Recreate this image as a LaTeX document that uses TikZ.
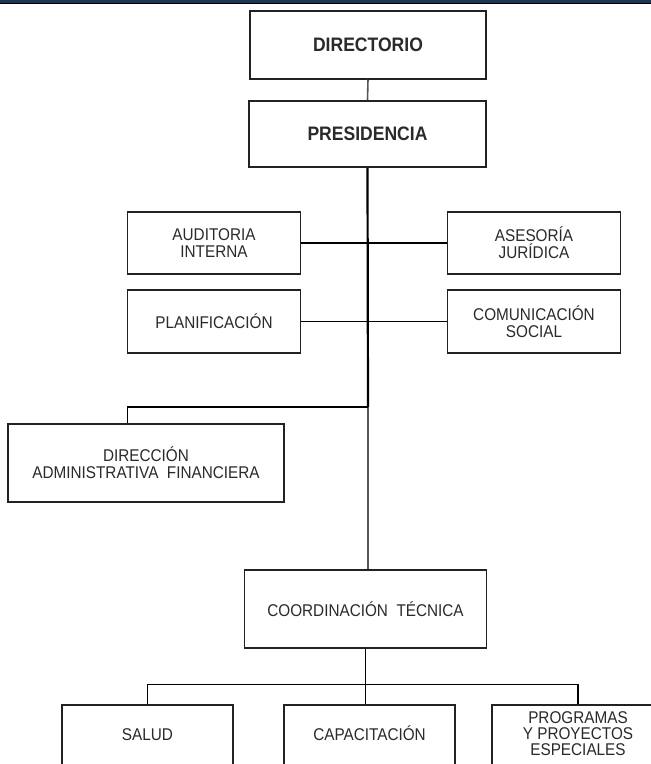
\documentclass[tikz,border=0pt]{standalone}
\usepackage{fontspec}
\setmainfont[FakeStretch=0.9]{Liberation Sans}
\definecolor{navy}{HTML}{1E3556}
\definecolor{boxline}{HTML}{222222}
\definecolor{txt}{HTML}{2A2A2A}
\definecolor{conn}{HTML}{555555}
\begin{document}
\begin{tikzpicture}[x=1pt,y=-1pt,
  unit/.style={draw=boxline, line width=1.5pt, fill=white, rectangle, inner sep=0pt,
    align=center, text=txt, font=\fontsize{17}{17}\selectfont},
  topunit/.style={unit, font=\fontsize{19.5}{20}\selectfont\bfseries},
  lowunit/.style={unit, minimum height=63pt, text height=12pt, text depth=5pt},
  link/.style={draw=black, line width=1.3pt},
  trunk/.style={draw=black, line width=2.2pt},
  thinlink/.style={draw=conn, line width=1.6pt},
]
\useasboundingbox (0,0) rectangle (651,764);
\clip (0,0) rectangle (651,764);
\fill[white] (0,0) rectangle (651,764);
\fill[navy] (0,0) rectangle (651,3);
\fill[black] (0,3) rectangle (651,4.2);

% nodes
\node[topunit, minimum width=236pt, minimum height=68pt] (dir) at (368,45) {DIRECTORIO};
\node[topunit, minimum width=237pt, minimum height=66pt] (pres) at (367.5,134) {PRESIDENCIA};
\node[unit, minimum width=173pt, minimum height=62pt] (aud) at (214,243) {AUDITORIA\\INTERNA};
\node[unit, minimum width=173pt, minimum height=62pt] (ase) at (534,243) {ASESORÍA\\JURÍDICA};
\node[unit, minimum width=173pt, minimum height=63pt] (pla) at (214,321.5) {PLANIFICACIÓN};
\node[unit, minimum width=173pt, minimum height=63pt] (com) at (534,321.5) {COMUNICACIÓN\\SOCIAL};
\node[unit, minimum width=276pt, minimum height=78pt] (daf) at (146,463) {DIRECCIÓN\\ADMINISTRATIVA\ \ FINANCIERA};
\node[unit, minimum width=242pt, minimum height=78pt] (coo) at (365.5,609) {COORDINACIÓN\ \ TÉCNICA};
\node[lowunit, minimum width=171pt] (sal) at (147.5,736.5) {SALUD};
\node[lowunit, minimum width=171pt] (cap) at (369.5,736.5) {CAPACITACIÓN};
\node[unit, minimum width=172pt, minimum height=63pt,
  label={[align=center, text=txt, inner sep=0pt, yshift=3pt,
    font=\fontsize{17}{15.8}\selectfont]center:PROGRAMAS\\Y PROYECTOS\\ESPECIALES}] (pro) at (578,736.5) {};

% connectors
\draw[thinlink] (dir.south) -- (pres.north);
\draw[trunk] (pres.south) -- (368,407) coordinate (j1);
\draw[thinlink] (j1) -- (coo.north -| j1);
\draw[link] (aud.east) -- (ase.west);
\draw[link] (pla.east) -- (com.west);
\draw[link] (j1) -| ([xshift=120pt]daf.north west);
\draw[link] (coo.south) -- ++(0,36) coordinate (bus);
\draw[link] (sal.north) |- (bus) -| (pro.north);
\draw[link] (bus) -- (bus |- cap.north);
\end{tikzpicture}
\end{document}
